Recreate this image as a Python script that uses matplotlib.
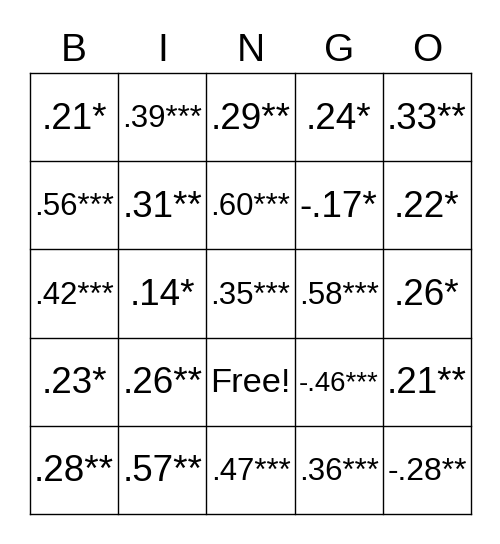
import matplotlib
matplotlib.use("Agg")
import matplotlib.pyplot as plt

header = ["B", "I", "N", "G", "O"]
cells = [
    [".21*", ".39***", ".29**", ".24*", ".33**"],
    [".56***", ".31**", ".60***", "-.17*", ".22*"],
    [".42***", ".14*", ".35***", ".58***", ".26*"],
    [".23*", ".26**", "Free!", "-.46***", ".21**"],
    [".28**", ".57**", ".47***", ".36***", "-.28**"],
]

W, H = 500, 544
x0, y0, cw = 30, 73, 88.2

fig = plt.figure(figsize=(W / 100, H / 100), dpi=100)
ax = fig.add_axes([0, 0, 1, 1])
ax.set_xlim(0, W); ax.set_ylim(H, 0); ax.axis("off")
plt.rcParams["font.family"] = ["Liberation Sans", "DejaVu Sans"]

for i in range(6):
    ax.plot([x0 + i * cw] * 2, [y0, y0 + 5 * cw], color="black", lw=1)
    ax.plot([x0, x0 + 5 * cw], [y0 + i * cw] * 2, color="black", lw=1)

for j, h in enumerate(header):
    ax.text(x0 + (j + 0.5) * cw, 51, h, ha="center", va="center", fontsize=28)

renderer = fig.canvas.get_renderer()
base = 26.5
for r, row in enumerate(cells):
    for c, s in enumerate(row):
        t = ax.text(x0 + (c + 0.5) * cw, y0 + (r + 0.5) * cw + 2, s,
                    ha="center", va="center", fontsize=base)
        w = t.get_window_extent(renderer).width
        if w > 80:
            t.set_fontsize(base * 80 / w)

fig.savefig("out.png", dpi=100)
